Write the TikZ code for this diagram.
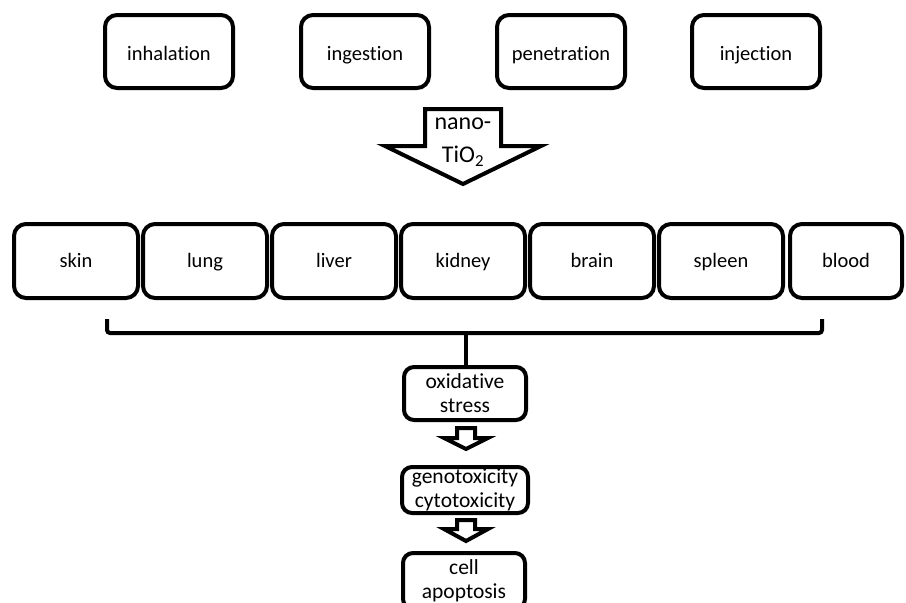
\documentclass[tikz,border=0pt]{standalone}
\usepackage{fontspec}
\setmainfont[Ligatures=NoCommon]{Carlito}
\usetikzlibrary{calc}

\begin{document}
\begin{tikzpicture}[x=1pt,y=-1pt,
        route/.style={draw,line width=4pt,rounded corners=12pt,minimum width=128pt,minimum height=73pt,inner sep=0pt,text height=20pt,text depth=3pt,font=\fontsize{20.5}{24}\selectfont},
        organ/.style={draw,line width=4pt,rounded corners=12pt,minimum width=124pt,minimum height=74pt,inner sep=0pt,text height=16pt,text depth=4pt,font=\fontsize{20.5}{24}\selectfont},
        effect/.style={draw,line width=4pt,rounded corners=10pt,minimum width=122pt,inner sep=0pt,align=center,font=\fontsize{21.5}{24}\selectfont},
        hollow/.style={draw,line width=4pt,fill=white}]
        \clip (0,0) rectangle (906,603);
        \node (inh) at (169,51.5) [route] {inhalation};
        \node (ing) at (365,51.5) [route] {ingestion};
        \node (pen) at (561,51.5) [route] {penetration};
        \node (inj) at (756,51.5) [route] {injection};
        \draw[hollow] (425,109) -- (501,109) -- (501,146) -- (541,146) -- (463,184) -- (385,146) -- (425,146) -- cycle;
        \node (nano) at (463,142) [align=center,font=\fontsize{24}{33}\selectfont] {nano-\\TiO\textsubscript{2}};
        \node (skin) at (76,261) [organ] {skin};
        \node (lung) at (205,261) [organ] {lung};
        \node (liver) at (334,261) [organ] {liver};
        \node (kidney) at (463,261) [organ] {kidney};
        \node (brain) at (592,261) [organ] {brain};
        \node (spleen) at (721,261) [organ] {spleen};
        \node (blood) at (846,261) [organ,minimum width=112pt] {blood};
        \node (ox) at (465,393.5) [effect,minimum height=53pt] {oxidative\\stress};
        \node (geno) at (465,490) [effect,minimum width=126pt,minimum height=46pt] {genotoxicity\\cytotoxicity};
        \node (cell) at (464,581) [effect,minimum height=56pt] {cell\\apoptosis};
        \coordinate (BL) at (107,319);
        \coordinate (BR) at (822,319);
        \coordinate (BM) at (466,333);
        \draw[line width=4pt,rounded corners=3pt] (BL) -- (107,333) -- (822,333) -- (BR);
        \draw[line width=4pt] (BM) -- (ox.north -| BM);
        \draw[hollow] (457,428) -- (475,428) -- (475,438) -- (488,438) -- (466,449) -- (444,438) -- (457,438) -- cycle;
        \draw[hollow] (457,520) -- (475,520) -- (475,529) -- (488,529) -- (466,541) -- (444,529) -- (457,529) -- cycle;
    \end{tikzpicture}
\end{document}
